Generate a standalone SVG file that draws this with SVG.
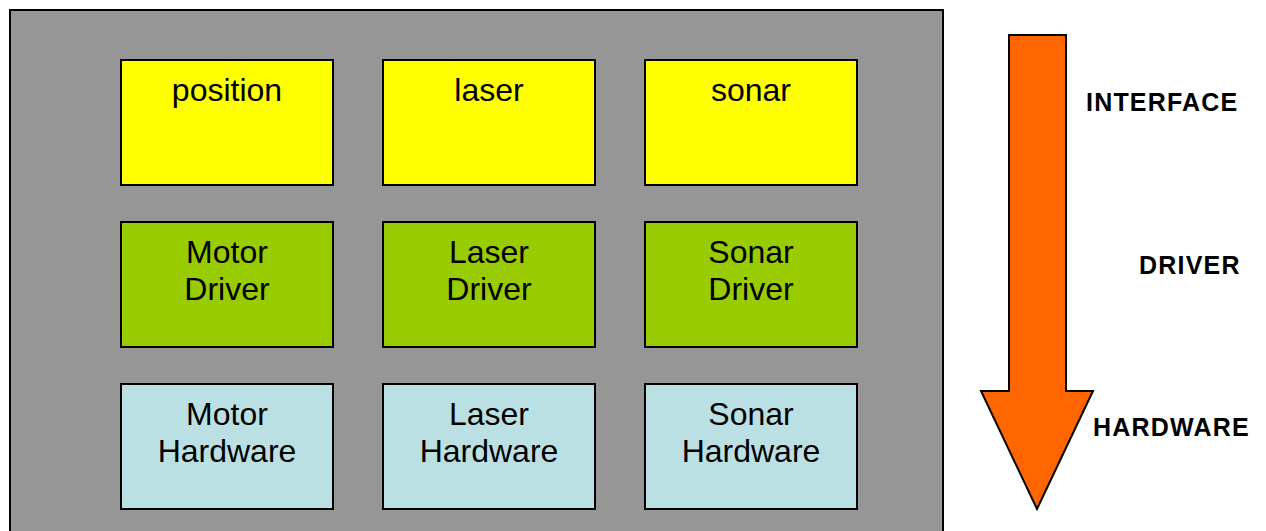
<svg xmlns="http://www.w3.org/2000/svg" width="1266" height="531" viewBox="0 0 1266 531">
<style>
.box{stroke:#000;stroke-width:2}
.iface{fill:#FFFF00}
.drv{fill:#99CC00}
.hw{fill:#BBE0E3}
.t{font-family:"Liberation Sans",Arial,sans-serif;font-size:32px;fill:#000;text-anchor:middle}
.lbl{font-family:"Liberation Sans",Arial,sans-serif;font-size:25px;font-weight:bold;letter-spacing:1.2px;fill:#000}
</style>
<rect width="1266" height="531" fill="#fff"/>
<rect id="frame" x="10" y="10" width="933" height="530" fill="#969696" stroke="#000" stroke-width="2"/>
<g id="position"><rect class="box iface" x="121" y="60" width="212" height="125"/><text class="t" x="227" y="101">position</text></g>
<g id="laser"><rect class="box iface" x="383" y="60" width="212" height="125"/><text class="t" x="489" y="101">laser</text></g>
<g id="sonar"><rect class="box iface" x="645" y="60" width="212" height="125"/><text class="t" x="751" y="101">sonar</text></g>
<g id="motor-driver"><rect class="box drv" x="121" y="222" width="212" height="125"/><text class="t" x="227" y="263">Motor</text><text class="t" x="227" y="300">Driver</text></g>
<g id="laser-driver"><rect class="box drv" x="383" y="222" width="212" height="125"/><text class="t" x="489" y="263">Laser</text><text class="t" x="489" y="300">Driver</text></g>
<g id="sonar-driver"><rect class="box drv" x="645" y="222" width="212" height="125"/><text class="t" x="751" y="263">Sonar</text><text class="t" x="751" y="300">Driver</text></g>
<g id="motor-hardware"><rect class="box hw" x="121" y="384" width="212" height="125"/><text class="t" x="227" y="425">Motor</text><text class="t" x="227" y="462">Hardware</text></g>
<g id="laser-hardware"><rect class="box hw" x="383" y="384" width="212" height="125"/><text class="t" x="489" y="425">Laser</text><text class="t" x="489" y="462">Hardware</text></g>
<g id="sonar-hardware"><rect class="box hw" x="645" y="384" width="212" height="125"/><text class="t" x="751" y="425">Sonar</text><text class="t" x="751" y="462">Hardware</text></g>
<g id="connectors">
<polygon points="1009,35 1066,35 1066,391 1093,391 1037,509 981,391 1009,391" fill="#FF6600" stroke="#000" stroke-width="2" stroke-linejoin="miter"/>
</g>
<g id="labels">
<text class="lbl" x="1086" y="111">INTERFACE</text>
<text class="lbl" x="1139" y="274">DRIVER</text>
<text class="lbl" x="1093" y="436">HARDWARE</text>
</g>
</svg>
